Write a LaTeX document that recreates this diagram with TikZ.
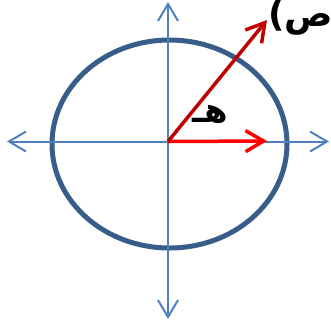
\documentclass[tikz,border=0pt]{standalone}
\usepackage{fontspec}
\usetikzlibrary{arrows.meta}
\TeXXeTstate=1
\newfontfamily\arabicfont[Script=Arabic]{DejaVu Sans}
\definecolor{ellblue}{HTML}{385D8A}
\definecolor{axblue}{HTML}{4F81BD}
\definecolor{darkred}{HTML}{C00000}
\tikzset{
  axis/.style={draw=axblue, line width=2pt, -{Straight Barb[length=17pt,width=20pt,line width=2pt]}},
  vec/.style={line width=3.5pt, -{Straight Barb[length=18pt,width=21pt,line width=3.5pt]}},
  lbl/.style={inner sep=0pt}
}
\begin{document}
\begin{tikzpicture}[x=1pt,y=-1pt]
\useasboundingbox (0,0) rectangle (331,327);
\clip (0,0) rectangle (331,327);
\coordinate (O) at (168,141.5);
\coordinate (xl) at (7,141.5);
\coordinate (xr) at (329,141.5);
\coordinate (yt) at (168,2);
\coordinate (yb) at (168,319);
\coordinate (P) at (267,20);
\coordinate (Q) at (267,141);
\draw[ellblue, line width=5pt] (169.5,144) ellipse [x radius=117.5, y radius=104];
\draw[axis] (O) -- (xl);
\draw[axis] (O) -- (xr);
\draw[axis] (O) -- (yt);
\draw[axis] (O) -- (yb);
\draw[vec, draw=red] (O) -- (Q);
\draw[vec, draw=darkred] (O) -- (P);
\node[lbl, font=\arabicfont\bfseries\fontsize{34}{40}\selectfont] (h) at (210,114) {\beginR هـ\endR};
\node[lbl, anchor=west, font=\arabicfont\bfseries\fontsize{36}{42}\selectfont] (pt) at (268,17) {\beginR (س، ص)\endR};
\end{tikzpicture}
\end{document}
